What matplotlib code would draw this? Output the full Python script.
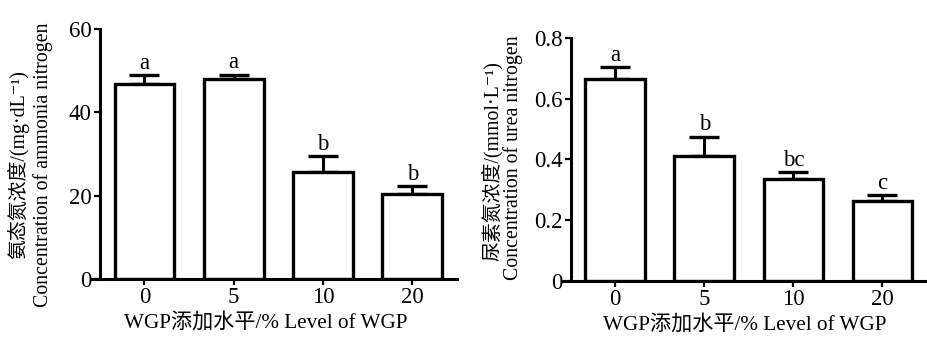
import matplotlib
matplotlib.use('Agg')
import matplotlib.pyplot as plt
import numpy as np

plt.rcParams['font.family'] = ['Liberation Serif', 'Noto Sans CJK SC',
                               'DejaVu Serif']

levels = ['0', '5', '10', '20']

# ammonia nitrogen, mg/dL
nh3_mean = [46.8, 48.0, 25.7, 20.4]
nh3_err = [2.1, 1.0, 3.8, 1.9]
nh3_sig = ['a', 'a', 'b', 'b']

# urea nitrogen, mmol/L
urea_mean = [0.664, 0.411, 0.336, 0.262]
urea_err = [0.039, 0.064, 0.022, 0.020]
urea_sig = ['a', 'b', 'bc', 'c']

fig = plt.figure(figsize=(9.27, 3.43), dpi=100)
ax1 = fig.add_axes([0.098, 0.187, 0.395, 0.729])
ax2 = fig.add_axes([0.606, 0.181, 0.394, 0.709])


def panel(ax, mean, err, sig, ymax, yticks, ticklabels):
    x = np.arange(len(levels))
    ax.bar(x, mean, width=0.67, color='white', edgecolor='black',
           linewidth=2.4, zorder=2)
    ax.errorbar(x, mean, yerr=[np.zeros(len(err)), err], fmt='none',
                ecolor='black', elinewidth=2.2, capsize=11, capthick=2.4,
                zorder=1)
    for xi, m, e, s in zip(x, mean, err, sig):
        ax.annotate(s, (xi, m + e), xytext=(0, 1), textcoords='offset points',
                    ha='center', va='bottom', fontsize=16.5)
    ax.set_xlim(-0.6, 3.5)
    ax.set_ylim(0, ymax)
    ax.spines['left'].set_position(('data', -0.5))
    ax.spines['top'].set_visible(False)
    ax.spines['right'].set_visible(False)
    for sp in ('left', 'bottom'):
        ax.spines[sp].set_linewidth(2.2)
    ax.set_xticks(x)
    ax.set_xticklabels(levels)
    ax.set_yticks(yticks)
    ax.set_yticklabels(ticklabels)
    ax.tick_params(axis='both', labelsize=16.5, width=1.6, length=4, pad=2)


panel(ax1, nh3_mean, nh3_err, nh3_sig, 60, [0, 20, 40, 60],
      ['0', '20', '40', '60'])
panel(ax2, urea_mean, urea_err, urea_sig, 0.8, [0, 0.2, 0.4, 0.6, 0.8],
      ['0', '0.2', '0.4', '0.6', '0.8'])

fig.text(18 / 927, 1 - 165 / 343, '氨态氮浓度/(mg·dL⁻¹)', rotation=90,
         ha='center', va='center', fontsize=14.3)
fig.text(43 / 927, 1 - 165 / 343, 'Concentration of ammonia nitrogen',
         rotation=90, ha='center', va='center', fontsize=14.3)
fig.text(492 / 927, 1 - 161 / 343, '尿素氮浓度/(mmol·L⁻¹)', rotation=90,
         ha='center', va='center', fontsize=14.3)
fig.text(513 / 927, 1 - 158 / 343, 'Concentration of urea nitrogen',
         rotation=90, ha='center', va='center', fontsize=14.3)

fig.text(266 / 927, 1 - 323 / 343, 'WGP添加水平/% Level of WGP',
         ha='center', va='center', fontsize=15.2)
fig.text(745 / 927, 1 - 325 / 343, 'WGP添加水平/% Level of WGP',
         ha='center', va='center', fontsize=15.2)

fig.savefig('out.png', dpi=100)
